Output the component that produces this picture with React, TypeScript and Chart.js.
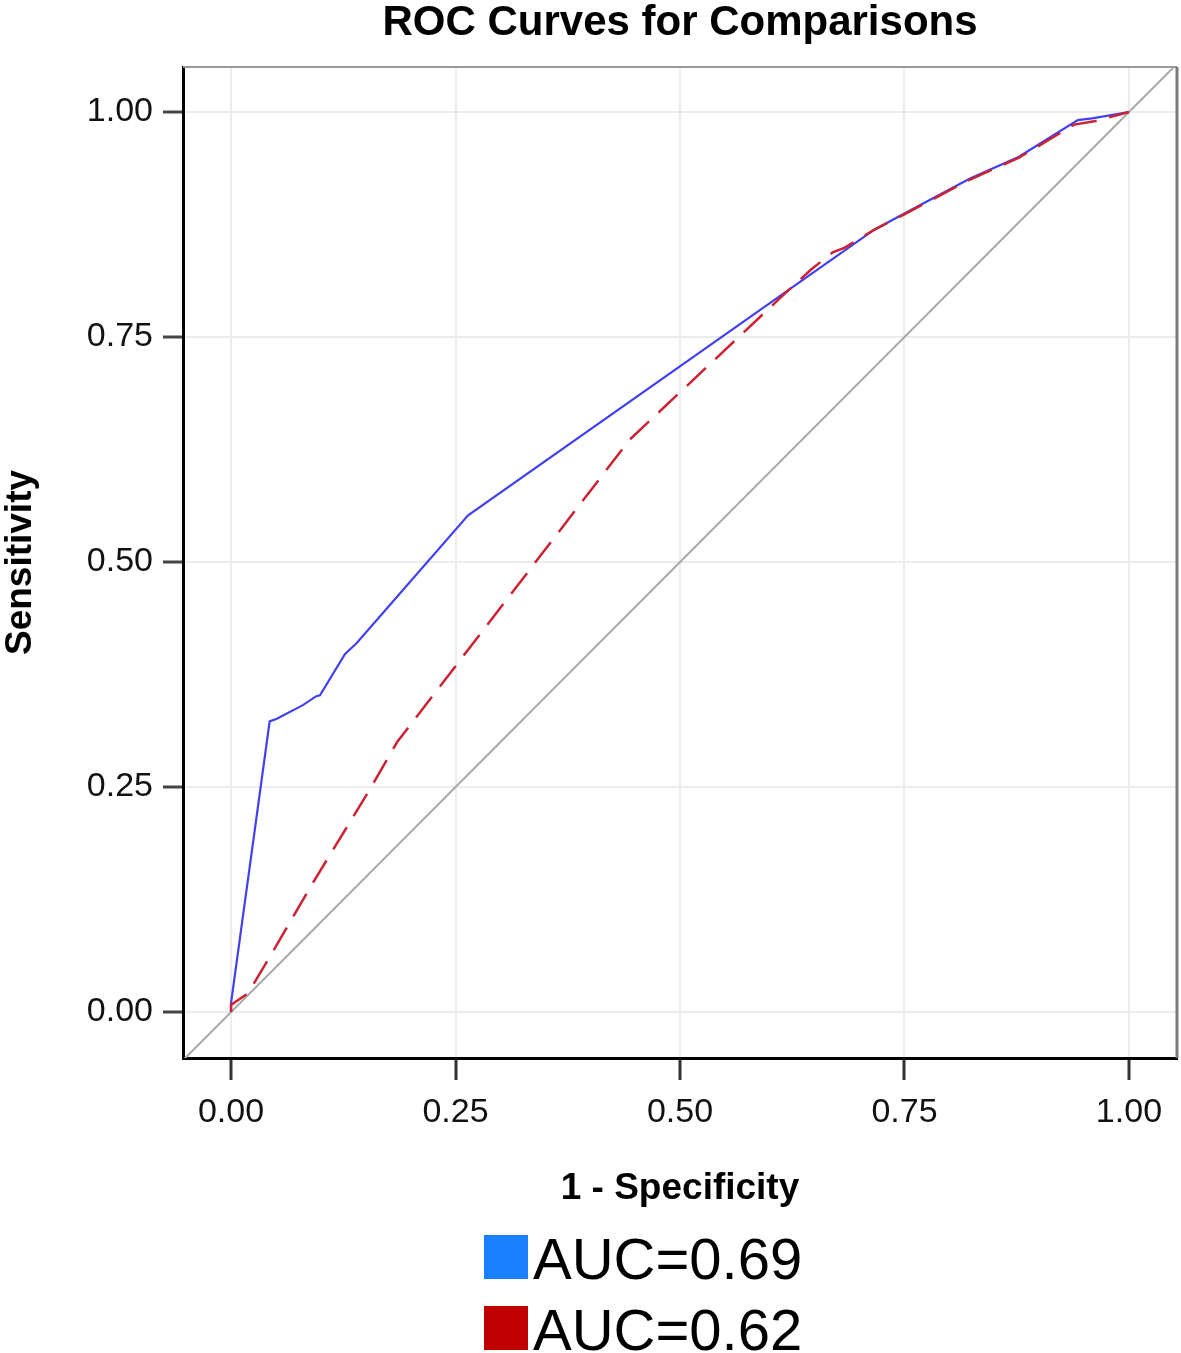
import React, { useEffect, useRef } from "react";
import { Chart, registerables } from "chart.js";

Chart.register(...registerables);

const titleText = "ROC Curves for Comparisons";
const xTitle = "1 - Specificity";
const yTitle = "Sensitivity";

const tickValues = [0, 0.25, 0.5, 0.75, 1];
const tickLabels = ["0.00", "0.25", "0.50", "0.75", "1.00"];

const seriesLabels = ["AUC=0.69", "AUC=0.62"];

const blueX = [0, 0, 0.043, 0.051, 0.080, 0.095, 0.099, 0.127, 0.140, 0.264, 0.716, 0.753, 0.823, 0.877, 0.943, 0.959, 1];
const blueY = [0, 0.01, 0.323, 0.326, 0.341, 0.351, 0.352, 0.398, 0.410, 0.552, 0.869, 0.889, 0.926, 0.950, 0.991, 0.993, 1];

const redX = [0, 0, 0.019, 0.047, 0.092, 0.155, 0.185, 0.444, 0.617, 0.646, 0.670, 0.683, 0.716, 0.753, 0.823, 0.877, 0.939, 0.963, 1];
const redY = [0, 0.008, 0.021, 0.068, 0.145, 0.248, 0.300, 0.636, 0.7985, 0.825, 0.844, 0.849, 0.869, 0.888, 0.925, 0.949, 0.986, 0.990, 1];

const diagX = [-0.06, 1.06];
const diagY = [-0.06, 1.06];

const toPoints = (xs: number[], ys: number[]) => xs.map((x, i) => ({ x, y: ys[i] }));

const SANS = "'Liberation Sans', Arial, sans-serif";

const framePlugin = {
  id: "frame",
  afterLayout(chart: any) {
    const tb = chart.titleBlock;
    if (tb) {
      tb.left = chart.chartArea.left;
      tb.right = chart.chartArea.right;
      tb.width = tb.right - tb.left;
    }
  },
  afterDatasetsDraw(chart: any) {
    const { ctx, chartArea } = chart;
    ctx.save();
    ctx.strokeStyle = "#9a9a9a";
    ctx.lineWidth = 2;
    ctx.beginPath();
    ctx.moveTo(chartArea.left, chartArea.top);
    ctx.lineTo(chartArea.right, chartArea.top);
    ctx.stroke();
    ctx.strokeStyle = "#7a7a7a";
    ctx.lineWidth = 3;
    ctx.beginPath();
    ctx.moveTo(chartArea.right, chartArea.top);
    ctx.lineTo(chartArea.right, chartArea.bottom);
    ctx.stroke();
    ctx.restore();
  },
};

const legendPlugin = {
  id: "rocLegend",
  afterDraw(chart: any) {
    const { ctx } = chart;
    ctx.save();
    let row = 0;
    chart.data.datasets.forEach((ds: any) => {
      if (!ds.legendColor) return;
      const top = 1235 + row * 71;
      ctx.fillStyle = ds.legendColor;
      ctx.fillRect(484, top, 44, 44);
      ctx.fillStyle = "#000";
      ctx.font = `58px ${SANS}`;
      ctx.textBaseline = "alphabetic";
      ctx.textAlign = "left";
      ctx.fillText(ds.label, 533, top + 44);
      row++;
    });
    ctx.restore();
  },
};

export default function App() {
  const ref = useRef<HTMLCanvasElement | null>(null);

  useEffect(() => {
    document.body.style.margin = "0";
    const canvas = ref.current;
    if (!canvas) return;
    const chart = new Chart(canvas, {
      type: "scatter",
      data: {
        datasets: [
          {
            label: "diagonal",
            data: toPoints(diagX, diagY),
            showLine: true,
            borderColor: "#a8a8a8",
            borderWidth: 2,
            pointRadius: 0,
            order: 3,
          } as any,
          {
            label: seriesLabels[0],
            legendColor: "#1a7fff",
            data: toPoints(blueX, blueY),
            showLine: true,
            borderColor: "#4040f2",
            borderWidth: 2.2,
            pointRadius: 0,
            order: 2,
          } as any,
          {
            label: seriesLabels[1],
            legendColor: "#c00000",
            data: toPoints(redX, redY),
            showLine: true,
            borderColor: "#cc2233",
            borderWidth: 2.5,
            borderDash: [26, 13],
            pointRadius: 0,
            order: 1,
          } as any,
        ],
      },
      options: {
        animation: false,
        responsive: false,
        devicePixelRatio: 1,
        layout: { padding: { left: 0, right: 4, top: 0, bottom: 130 } },
        plugins: {
          legend: { display: false },
          tooltip: { enabled: false },
          title: {
            display: true,
            text: titleText,
            color: "#000",
            font: { family: SANS, size: 42, weight: "bold", lineHeight: 1.0 },
            padding: { top: 2, bottom: 23 },
          },
        },
        scales: {
          x: {
            type: "linear",
            min: -0.0535,
            max: 1.0535,
            afterFit(scale: any) {
              scale.height = 165;
            },
            afterBuildTicks(scale: any) {
              scale.ticks = tickValues.map((v) => ({ value: v }));
            },
            ticks: {
              callback: (v: any) => tickLabels[tickValues.indexOf(Number(v))] ?? "",
              color: "#111",
              font: { family: SANS, size: 34 },
              padding: 12,
              maxRotation: 0,
              autoSkip: false,
            },
            grid: {
              color: "#ececec",
              lineWidth: 2,
              tickLength: 22,
              tickColor: "#333",
              tickWidth: 3,
            },
            border: { display: true, color: "#000", width: 3 },
            title: {
              display: true,
              text: xTitle,
              color: "#000",
              font: { family: SANS, size: 37, weight: "bold", lineHeight: 1.0 },
              padding: { top: 0, bottom: 16 },
            },
          },
          y: {
            type: "linear",
            min: -0.051,
            max: 1.05,
            afterFit(scale: any) {
              scale.width = 183;
            },
            afterBuildTicks(scale: any) {
              scale.ticks = tickValues.map((v) => ({ value: v }));
            },
            ticks: {
              callback: (v: any) => tickLabels[tickValues.indexOf(Number(v))] ?? "",
              color: "#111",
              font: { family: SANS, size: 34 },
              padding: 10,
              autoSkip: false,
            },
            grid: {
              color: "#ececec",
              lineWidth: 2,
              tickLength: 20,
              tickColor: "#444",
              tickWidth: 3,
            },
            border: { display: true, color: "#000", width: 3 },
            title: {
              display: true,
              text: yTitle,
              color: "#000",
              font: { family: SANS, size: 37, weight: "bold", lineHeight: 1.0 },
              padding: { top: 2, bottom: 0 },
            },
          },
        },
      } as any,
      plugins: [framePlugin, legendPlugin],
    });
    return () => chart.destroy();
  }, []);

  return (
    <div style={{ width: 1181, height: 1353, background: "#fff" }}>
      <canvas ref={ref} width={1181} height={1353} style={{ display: "block" }} />
    </div>
  );
}
